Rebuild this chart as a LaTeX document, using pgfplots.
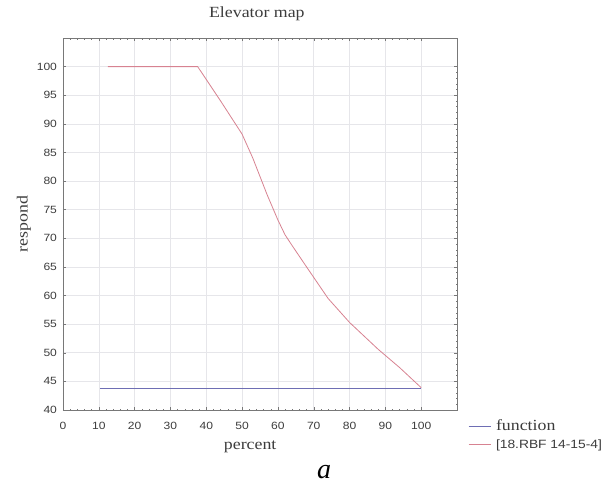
\documentclass[border=0pt]{standalone}
\usepackage{fontspec}
\setmainfont{Liberation Serif}
\newfontfamily\srf[FakeStretch=1.15]{Liberation Serif}
\newfontfamily\sns[FakeStretch=1.15]{Liberation Sans}
\usepackage{pgfplots}
\pgfplotsset{compat=1.18}
\definecolor{redline}{RGB}{215,130,145}
\definecolor{blueline}{RGB}{110,110,180}
\definecolor{boxgray}{RGB}{120,120,120}
\definecolor{gridgray}{RGB}{230,230,234}
\definecolor{txt}{RGB}{60,60,60}

\begin{document}
\begin{tikzpicture}
\useasboundingbox (0,0) rectangle (601pt,485pt);
\begin{axis}[
  at={(63pt,75pt)}, anchor=south west,
  scale only axis, width=394pt, height=372pt,
  xmin=0, xmax=110, ymin=40, ymax=105,
  xtick={0,10,...,100}, ytick={40,45,...,100},
  minor x tick num=4, minor y tick num=4,
  major tick length=3pt, minor tick length=1.5pt,
  tick style={boxgray, line width=0.4pt},
  axis line style={boxgray, line width=0.8pt},
  grid=major, major grid style={gridgray, line width=0.6pt},
  /pgf/number format/assume math mode=true,
  ticklabel style={font=\sns\fontsize{10.5}{12}\selectfont, text=txt},
  xticklabel style={yshift=-9pt},
  yticklabel style={xshift=-2.5pt},
  title={\srf\fontsize{15.5}{18}\selectfont Elevator map},
  title style={at={(axis description cs:0.492,1.040)}, anchor=base, text=txt},
  xlabel={\srf\fontsize{15.5}{18}\selectfont percent},
  xlabel style={at={(axis description cs:0.475,-0.1055)}, anchor=base, text=txt},
  ylabel={\srf\fontsize{15.5}{18}\selectfont respond},
  ylabel style={at={(axis description cs:-0.099,0.5)}, anchor=center, text=txt},
  legend image code/.code={\draw[#1] (0pt,0pt) -- (22pt,0pt);},
  legend style={at={(axis description cs:1.028,-0.03)}, anchor=north west,
    draw=none, fill=none, inner sep=0pt, row sep=7pt, column sep=5pt,
    nodes={inner sep=0pt, text height=9pt, text depth=2pt, text=txt}},
  legend cell align=left,
]
\addplot[blueline, line width=0.8pt] coordinates {(10.3,43.8) (100,43.8)};
\addlegendentry{\srf\fontsize{15.5}{18}\selectfont function}
\addplot[redline, line width=0.8pt] coordinates {
  (12.5,100) (37.6,100) (44,94) (50,88.2) (53,84) (57,77.6) (60,73.2)
  (62,70.6) (64,68.7) (68,65) (74,59.5) (80,55.3) (88,50.6) (94,47.4) (100,43.9)};
\addlegendentry{\sns\fontsize{12}{14}\selectfont [18.RBF 14-15-4]}
\end{axis}
\node[anchor=base, font=\fontsize{28}{30}\selectfont\itshape, text=black] at (324pt,7pt) {a};
\end{tikzpicture}
\end{document}
